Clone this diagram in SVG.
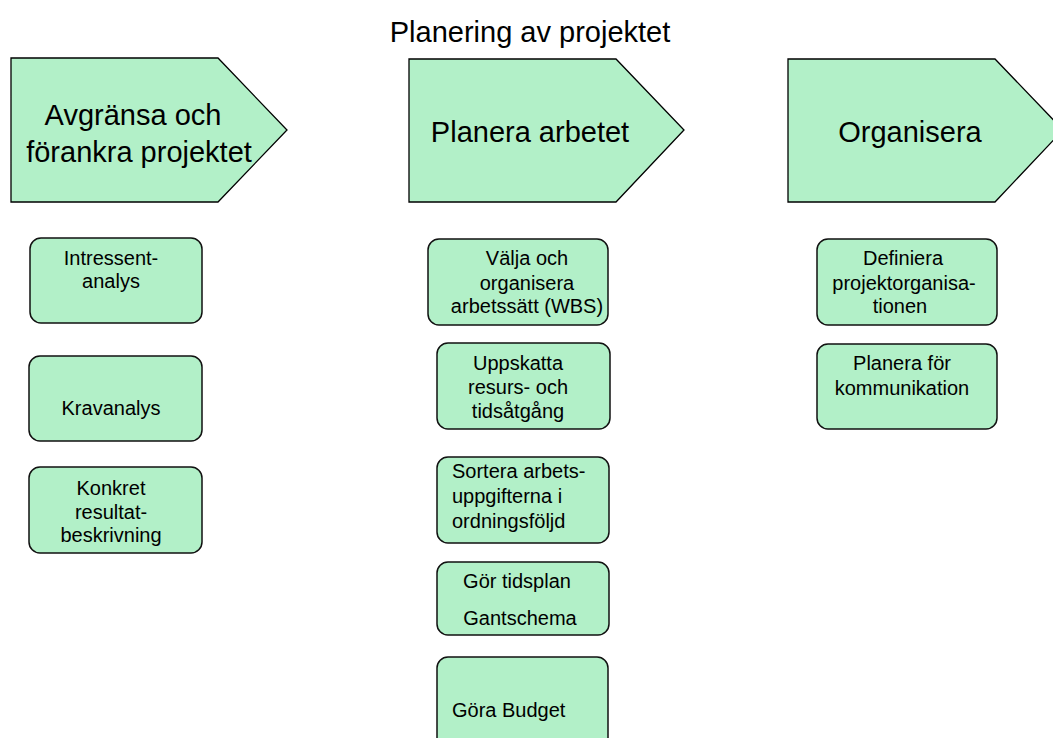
<svg xmlns="http://www.w3.org/2000/svg" width="1053" height="738" viewBox="0 0 1053 738">
<style>
text{font-family:"Liberation Sans",Arial,sans-serif;fill:#000}
.title{font-size:29px}
.ph{font-size:29px}
.bx{font-size:20px}
.pent{fill:#B2F0C8;stroke:#000;stroke-width:1.3}
.box{fill:#B2F0C8;stroke:#111;stroke-width:1.5}
.m{text-anchor:middle}
</style>
<rect width="1053" height="738" fill="#fff"/>
<text class="title m" x="530" y="42">Planering av projektet</text>

<g id="phase1">
<polygon class="pent" points="11,58 218,58 287,130 218,202 11,202"/>
<text class="ph m" x="133" y="125">Avgränsa och</text>
<text class="ph m" x="139" y="162">förankra projektet</text>
</g>
<g id="phase2">
<polygon class="pent" points="409,59 616,59 684,130 616,202 409,202"/>
<text class="ph m" x="530" y="142">Planera arbetet</text>
</g>
<g id="phase3">
<polygon class="pent" points="788,59 995,59 1063,130 995,202 788,202"/>
<text class="ph m" x="910" y="142">Organisera</text>
</g>

<g id="intressentanalys">
<rect class="box" x="30" y="238" width="172" height="85" rx="11"/>
<text class="bx m" x="111" y="265">Intressent-</text>
<text class="bx m" x="111" y="288">analys</text>
</g>
<g id="kravanalys">
<rect class="box" x="29" y="356" width="173" height="85" rx="11"/>
<text class="bx m" x="111" y="415">Kravanalys</text>
</g>
<g id="resultatbeskrivning">
<rect class="box" x="29" y="467" width="173" height="86" rx="11"/>
<text class="bx m" x="111" y="495">Konkret</text>
<text class="bx m" x="111" y="519">resultat-</text>
<text class="bx m" x="111" y="542">beskrivning</text>
</g>

<g id="wbs">
<rect class="box" x="428" y="239" width="180" height="86" rx="11"/>
<text class="bx m" x="527" y="265">Välja och</text>
<text class="bx m" x="527" y="290">organisera</text>
<text class="bx m" x="527" y="313">arbetssätt (WBS)</text>
</g>
<g id="uppskatta">
<rect class="box" x="437" y="343" width="173" height="86" rx="11"/>
<text class="bx m" x="518" y="370">Uppskatta</text>
<text class="bx m" x="518" y="394">resurs- och</text>
<text class="bx m" x="518" y="418">tidsåtgång</text>
</g>
<g id="sortera">
<rect class="box" x="437" y="457" width="172" height="86" rx="11"/>
<text class="bx" x="452" y="478">Sortera arbets-</text>
<text class="bx" x="452" y="503">uppgifterna i</text>
<text class="bx" x="452" y="528">ordningsföljd</text>
</g>
<g id="tidsplan">
<rect class="box" x="437" y="562" width="172" height="73" rx="11"/>
<text class="bx m" x="517" y="588">Gör tidsplan</text>
<text class="bx m" x="520" y="625">Gantschema</text>
</g>
<g id="budget">
<rect class="box" x="437" y="657" width="171" height="95" rx="11"/>
<text class="bx" x="452" y="717">Göra Budget</text>
</g>

<g id="projektorganisation">
<rect class="box" x="817" y="239" width="180" height="86" rx="11"/>
<text class="bx m" x="903" y="265">Definiera</text>
<text class="bx m" x="904" y="290">projektorganisa-</text>
<text class="bx m" x="900" y="313">tionen</text>
</g>
<g id="kommunikation">
<rect class="box" x="817" y="344" width="180" height="85" rx="11"/>
<text class="bx m" x="902" y="370">Planera för</text>
<text class="bx m" x="902" y="395">kommunikation</text>
</g>

<g id="connectors"></g>
</svg>
